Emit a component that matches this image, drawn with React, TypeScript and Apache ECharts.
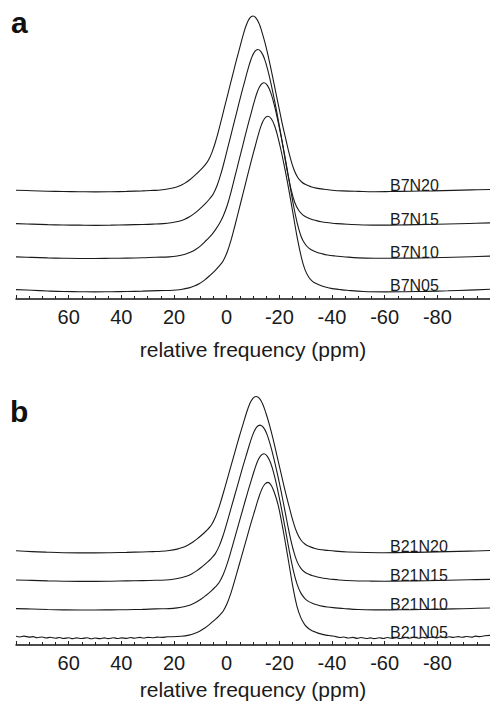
import React, { useEffect, useRef } from "react";
import * as echarts from "echarts";

const FONT = "'Liberation Sans', Arial, Helvetica, sans-serif";
const INK = "#1a1a1a";

// x axis (ppm), reversed: 80 on the left, -100 on the right
const PPM_MIN = -100;
const PPM_MAX = 80;
const PPM_STEP = 20;
const AXIS_TITLE = "relative frequency (ppm)";
const PANEL_LETTERS = ["a", "b"];

// panel a
const NAMES_A = ["B7N05", "B7N10", "B7N15", "B7N20"];
const OFFSETS_A = [0, 0.192, 0.383, 0.575];
// panel b
const NAMES_B = ["B21N05", "B21N10", "B21N15", "B21N20"];
const OFFSETS_B = [0, 0.185, 0.37, 0.555];
const LABEL_PPM = -62;

// [ppm, normalised intensity]
const B7N20 = [
  [80, 0.0], [74, -0.003], [68, -0.006], [62, -0.008], [56, -0.009], [50, -0.01], [44, -0.009], [38, -0.007],
  [32, -0.004], [29, -0.002], [26, 0.0], [23, 0.005], [20, 0.014], [18, 0.024], [16, 0.039], [14, 0.06],
  [12, 0.086], [10, 0.115], [8.5, 0.14], [7, 0.17], [5.5, 0.22], [4, 0.29], [2.5, 0.375], [1, 0.465],
  [-0.5, 0.555], [-2, 0.645], [-3.5, 0.735], [-5, 0.82], [-6.25, 0.89], [-7.5, 0.95], [-8.75, 0.988], [-10, 1.0],
  [-11.25, 0.987], [-12.5, 0.95], [-13.75, 0.89], [-15, 0.82], [-16.5, 0.72], [-18, 0.61], [-19.5, 0.5],
  [-21, 0.39], [-22.5, 0.29], [-24, 0.195], [-25.5, 0.12], [-27, 0.073], [-28.5, 0.047], [-30, 0.032],
  [-32, 0.02], [-34, 0.012], [-37, 0.005], [-40, 0.0], [-44, -0.004], [-50, -0.007], [-56, -0.009],
  [-62, -0.008], [-70, -0.006], [-78, -0.004], [-86, -0.001], [-93, 0.002], [-100, 0.004],
];
const B7N15 = [
  [80, 0.0], [74, -0.003], [68, -0.006], [62, -0.008], [56, -0.009], [50, -0.01], [44, -0.009], [38, -0.007],
  [32, -0.005], [28, -0.003], [24.1, 0.0], [21.1, 0.005], [18.1, 0.014], [16.1, 0.024], [14.1, 0.039],
  [12.1, 0.06], [10.1, 0.086], [8.1, 0.115], [6.6, 0.14], [5.1, 0.17], [3.6, 0.22], [2.1, 0.29], [0.6, 0.375],
  [-0.9, 0.465], [-2.4, 0.555], [-3.9, 0.645], [-5.4, 0.735], [-6.9, 0.82], [-8.15, 0.89], [-9.4, 0.95],
  [-10.65, 0.988], [-11.9, 1.0], [-13.15, 0.985], [-14.4, 0.945], [-15.65, 0.88], [-16.9, 0.8], [-18.4, 0.69],
  [-19.9, 0.57], [-21.4, 0.44], [-22.9, 0.31], [-24.4, 0.2], [-25.9, 0.12], [-27.4, 0.075], [-28.9, 0.05],
  [-30.4, 0.037], [-31.9, 0.027], [-33.9, 0.018], [-35.9, 0.011], [-38.9, 0.005], [-41.9, 0.0], [-46, -0.004],
  [-52, -0.008], [-60, -0.009], [-68, -0.007], [-76, -0.005], [-84, -0.002], [-92, 0.001], [-100, 0.004],
];
const B7N10 = [
  [80, 0.0], [74, -0.003], [68, -0.006], [62, -0.008], [56, -0.009], [50, -0.009], [44, -0.008], [38, -0.007],
  [32, -0.005], [27, -0.002], [21.8, 0.0], [18.8, 0.005], [15.8, 0.015], [13.8, 0.026], [11.8, 0.042],
  [9.8, 0.065], [7.8, 0.094], [5.8, 0.125], [4.3, 0.155], [2.8, 0.19], [1.3, 0.235], [-0.2, 0.295],
  [-1.7, 0.375], [-3.2, 0.465], [-4.7, 0.555], [-6.2, 0.645], [-7.7, 0.735], [-9.2, 0.82], [-10.45, 0.89],
  [-11.7, 0.95], [-12.95, 0.988], [-14.2, 1.0], [-15.45, 0.985], [-16.7, 0.945], [-17.95, 0.88], [-19.2, 0.8],
  [-20.7, 0.69], [-22.2, 0.57], [-23.7, 0.44], [-25.2, 0.31], [-26.7, 0.2], [-28.2, 0.12], [-29.7, 0.075],
  [-31.2, 0.05], [-32.7, 0.037], [-34.2, 0.027], [-36.2, 0.018], [-38.2, 0.011], [-41.2, 0.005], [-44.2, 0.001],
  [-50, -0.006], [-56, -0.008], [-62, -0.008], [-70, -0.007], [-78, -0.005], [-86, -0.002], [-93, 0.001],
  [-100, 0.004],
];
const B7N05 = [
  [80, 0.004], [74, 0.0], [68, -0.004], [62, -0.007], [56, -0.008], [50, -0.009], [44, -0.008], [38, -0.007],
  [32, -0.005], [26, -0.002], [20.3, 0.0], [17.3, 0.005], [14.3, 0.014], [12.3, 0.024], [10.3, 0.039],
  [8.3, 0.06], [6.3, 0.086], [4.3, 0.115], [2.8, 0.14], [1.3, 0.17], [-0.2, 0.22], [-1.7, 0.29], [-3.2, 0.375],
  [-4.7, 0.465], [-6.2, 0.555], [-7.7, 0.645], [-9.2, 0.735], [-10.7, 0.82], [-11.95, 0.89], [-13.2, 0.95],
  [-14.45, 0.988], [-15.7, 1.0], [-16.95, 0.985], [-18.2, 0.945], [-19.45, 0.88], [-20.7, 0.8], [-22.2, 0.69],
  [-23.7, 0.57], [-25.2, 0.44], [-26.7, 0.31], [-28.2, 0.2], [-29.7, 0.12], [-31.2, 0.075], [-32.7, 0.05],
  [-34.2, 0.037], [-35.7, 0.027], [-37.7, 0.018], [-39.7, 0.011], [-42.7, 0.005], [-45.7, 0.0], [-52, -0.007],
  [-60, -0.009], [-68, -0.008], [-76, -0.006], [-84, -0.003], [-92, 0.001], [-100, 0.006],
];

const B21N20 = [
  [80, 0.004], [74, -0.002], [68, -0.006], [62, -0.009], [56, -0.01], [50, -0.01], [44, -0.009], [38, -0.007],
  [32, -0.004], [28, -0.002], [24.8, 0.0], [21.8, 0.005], [18.8, 0.014], [16.8, 0.024], [14.8, 0.039],
  [12.8, 0.06], [10.8, 0.086], [8.8, 0.115], [7.3, 0.14], [5.8, 0.17], [4.3, 0.22], [2.8, 0.29], [1.3, 0.375],
  [-0.2, 0.465], [-1.7, 0.555], [-3.2, 0.645], [-4.7, 0.735], [-6.2, 0.82], [-7.45, 0.89], [-8.7, 0.95],
  [-9.95, 0.988], [-11.2, 1.0], [-12.45, 0.987], [-13.7, 0.95], [-14.95, 0.89], [-16.2, 0.82], [-17.7, 0.72],
  [-19.2, 0.61], [-20.7, 0.5], [-22.2, 0.39], [-23.7, 0.29], [-25.2, 0.195], [-26.7, 0.12], [-28.2, 0.073],
  [-29.7, 0.047], [-31.2, 0.032], [-33.2, 0.02], [-35.2, 0.012], [-38.2, 0.006], [-41.2, 0.001], [-46, -0.004],
  [-53, -0.008], [-60, -0.009], [-68, -0.008], [-76, -0.005], [-84, -0.002], [-92, 0.001], [-100, 0.005],
];
const B21N15 = [
  [80, 0.0], [74, -0.003], [68, -0.006], [62, -0.008], [56, -0.009], [50, -0.009], [44, -0.008], [38, -0.006],
  [32, -0.004], [27, -0.002], [23.3, 0.0], [20.3, 0.005], [17.3, 0.014], [15.3, 0.024], [13.3, 0.039],
  [11.3, 0.06], [9.3, 0.086], [7.3, 0.115], [5.8, 0.14], [4.3, 0.17], [2.8, 0.22], [1.3, 0.29], [-0.2, 0.375],
  [-1.7, 0.465], [-3.2, 0.555], [-4.7, 0.645], [-6.2, 0.735], [-7.7, 0.82], [-8.95, 0.89], [-10.2, 0.95],
  [-11.45, 0.988], [-12.7, 1.0], [-13.95, 0.985], [-15.2, 0.945], [-16.45, 0.88], [-17.7, 0.8], [-19.2, 0.69],
  [-20.7, 0.57], [-22.2, 0.44], [-23.7, 0.31], [-25.2, 0.2], [-26.7, 0.12], [-28.2, 0.075], [-29.7, 0.05],
  [-31.2, 0.037], [-32.7, 0.027], [-34.7, 0.018], [-36.7, 0.011], [-39.7, 0.005], [-42.7, 0.0], [-48, -0.005],
  [-54, -0.007], [-60, -0.008], [-68, -0.007], [-76, -0.005], [-84, -0.002], [-92, 0.001], [-100, 0.004],
];
const B21N10 = [
  [80, 0.0], [74, -0.003], [68, -0.006], [62, -0.008], [56, -0.009], [50, -0.009], [44, -0.008], [38, -0.007],
  [32, -0.005], [27, -0.002], [21.8, 0.0], [18.8, 0.005], [15.8, 0.014], [13.8, 0.024], [11.8, 0.039],
  [9.8, 0.06], [7.8, 0.086], [5.8, 0.115], [4.3, 0.14], [2.8, 0.17], [1.3, 0.22], [-0.2, 0.29], [-1.7, 0.375],
  [-3.2, 0.465], [-4.7, 0.555], [-6.2, 0.645], [-7.7, 0.735], [-9.2, 0.82], [-10.45, 0.89], [-11.7, 0.95],
  [-12.95, 0.988], [-14.2, 1.0], [-15.45, 0.983], [-16.7, 0.94], [-17.95, 0.87], [-19.2, 0.78], [-20.7, 0.655],
  [-22.2, 0.52], [-23.7, 0.38], [-25.2, 0.255], [-26.7, 0.16], [-28.2, 0.1], [-29.7, 0.065], [-31.2, 0.045],
  [-32.7, 0.033], [-34.2, 0.025], [-36.2, 0.016], [-38.2, 0.01], [-41.2, 0.005], [-44.2, 0.001], [-50, -0.006],
  [-56, -0.008], [-62, -0.008], [-70, -0.007], [-78, -0.005], [-86, -0.002], [-93, 0.001], [-100, 0.004],
];
const B21N05 = [
  [80, 0.006], [78.5, 0.002], [77, 0.007], [75, 0.001], [73.5, 0.004], [72, -0.003], [70, 0.002], [68.5, -0.005],
  [67, 0.0], [65, -0.006], [63.5, -0.002], [62, -0.008], [60, -0.003], [58.5, -0.009], [57, -0.004], [55, -0.008],
  [53, -0.003], [51.5, -0.01], [50, -0.005], [48, -0.009], [46.5, -0.004], [45, -0.009], [43, -0.003],
  [41.5, -0.008], [40, -0.004], [38, -0.007], [36.5, -0.002], [35, -0.006], [33, -0.001], [31.5, -0.005],
  [30, -0.001], [28, -0.003], [26.5, 0.001], [24.5, -0.001], [22.5, 0.003], [20.3, 0.003], [17.3, 0.006],
  [14.3, 0.014], [12.3, 0.024], [10.3, 0.039], [8.3, 0.06], [6.3, 0.086], [4.3, 0.115], [2.8, 0.14], [1.3, 0.17],
  [-0.2, 0.22], [-1.7, 0.29], [-3.2, 0.375], [-4.7, 0.465], [-6.2, 0.555], [-7.7, 0.645], [-9.2, 0.735],
  [-10.7, 0.82], [-11.95, 0.89], [-13.2, 0.95], [-14.45, 0.988], [-15.7, 1.0], [-16.95, 0.98], [-18.2, 0.93],
  [-19.45, 0.86], [-20.7, 0.76], [-22.2, 0.62], [-23.7, 0.47], [-25.2, 0.32], [-26.7, 0.2], [-28.2, 0.125],
  [-29.7, 0.08], [-31.2, 0.055], [-32.7, 0.04], [-34.2, 0.03], [-35.7, 0.022], [-37.7, 0.014], [-39.7, 0.009],
  [-41.5, 0.004], [-43, -0.002], [-44.5, 0.002], [-46, -0.005], [-48, -0.001], [-49.5, -0.007], [-51, -0.002],
  [-53, -0.008], [-54.5, -0.004], [-56, -0.009], [-58, -0.003], [-59.5, -0.008], [-61, -0.002], [-63, -0.007],
  [-64.5, -0.003], [-66, -0.008], [-68, -0.002], [-69.5, -0.006], [-71, -0.001], [-73, -0.006], [-74.5, 0.0],
  [-76, -0.005], [-78, 0.001], [-79.5, -0.004], [-81, 0.002], [-83, -0.003], [-84.5, 0.003], [-86, -0.001],
  [-88, 0.004], [-89.5, 0.0], [-91, 0.005], [-93, 0.001], [-94.5, 0.007], [-96, 0.004], [-98, 0.01], [-100, 0.012],
];

const TRACES_A = [B7N05, B7N10, B7N15, B7N20];
const TRACES_B = [B21N05, B21N10, B21N15, B21N20];

function xAxisFor(gridIndex: number, nameGap: number) {
  return {
    type: "value",
    gridIndex,
    min: PPM_MIN,
    max: PPM_MAX,
    interval: PPM_STEP,
    inverse: true,
    name: AXIS_TITLE,
    nameLocation: "middle",
    nameGap,
    nameTextStyle: { fontSize: 21, color: INK, fontFamily: FONT },
    axisLine: { show: true, onZero: false, lineStyle: { color: "#111", width: 1.5 } },
    axisTick: { show: true, inside: true, length: 4, lineStyle: { color: "#222", width: 1 } },
    minorTick: { show: true, splitNumber: 4, length: 3, lineStyle: { color: "#222", width: 1 } },
    splitLine: { show: false },
    minorSplitLine: { show: false },
    axisLabel: {
      fontSize: 20,
      color: INK,
      fontFamily: FONT,
      margin: 8,
      showMinLabel: false,
      showMaxLabel: false,
    },
  };
}

function seriesFor(
  traces: number[][][],
  names: string[],
  offsets: number[],
  axisIndex: number
) {
  return traces.map((tr, i) => ({
    type: "line",
    name: names[i],
    xAxisIndex: axisIndex,
    yAxisIndex: axisIndex,
    data: tr.map(([x, y]) => [x, y + offsets[i]]),
    showSymbol: false,
    symbol: "none",
    smooth: 0.4,
    lineStyle: { color: INK, width: 1.1 },
    silent: true,
    markPoint: {
      symbol: "circle",
      symbolSize: 0.1,
      itemStyle: { color: "rgba(0,0,0,0)" },
      silent: true,
      data: [{ coord: [LABEL_PPM, offsets[i]], name: names[i] }],
      label: {
        show: true,
        position: "right",
        distance: 0,
        offset: [0, -4.5],
        formatter: names[i],
        fontSize: 16,
        color: INK,
        fontFamily: FONT,
      },
    },
  }));
}

export default function App() {
  const ref = useRef<HTMLDivElement>(null);
  useEffect(() => {
    if (!ref.current) return;
    const chart = echarts.init(ref.current, null, { renderer: "svg" });
    chart.setOption({
      animation: false,
      backgroundColor: "#ffffff",
      title: [
        {
          text: PANEL_LETTERS[0],
          left: 11,
          top: 7,
          padding: 0,
          textStyle: { fontSize: 30, fontWeight: "bold", color: "#111", fontFamily: FONT },
        },
        {
          text: PANEL_LETTERS[1],
          left: 10,
          top: 396,
          padding: 0,
          textStyle: { fontSize: 30, fontWeight: "bold", color: "#111", fontFamily: FONT },
        },
      ],
      grid: [
        { left: 16, right: 0, top: 3, height: 296 },
        { left: 16, right: 0, top: 374, height: 271 },
      ],
      xAxis: [xAxisFor(0, 40), xAxisFor(1, 34)],
      yAxis: [
        { type: "value", gridIndex: 0, min: -0.05, max: 1.65, show: false },
        { type: "value", gridIndex: 1, min: -0.05, max: 1.7, show: false },
      ],
      series: [
        ...seriesFor(TRACES_A, NAMES_A, OFFSETS_A, 0),
        ...seriesFor(TRACES_B, NAMES_B, OFFSETS_B, 1),
      ],
    });
    return () => chart.dispose();
  }, []);
  return (
    <div
      ref={ref}
      style={{ position: "fixed", left: 0, top: 0, width: 490, height: 703, background: "#fff" }}
    />
  );
}
